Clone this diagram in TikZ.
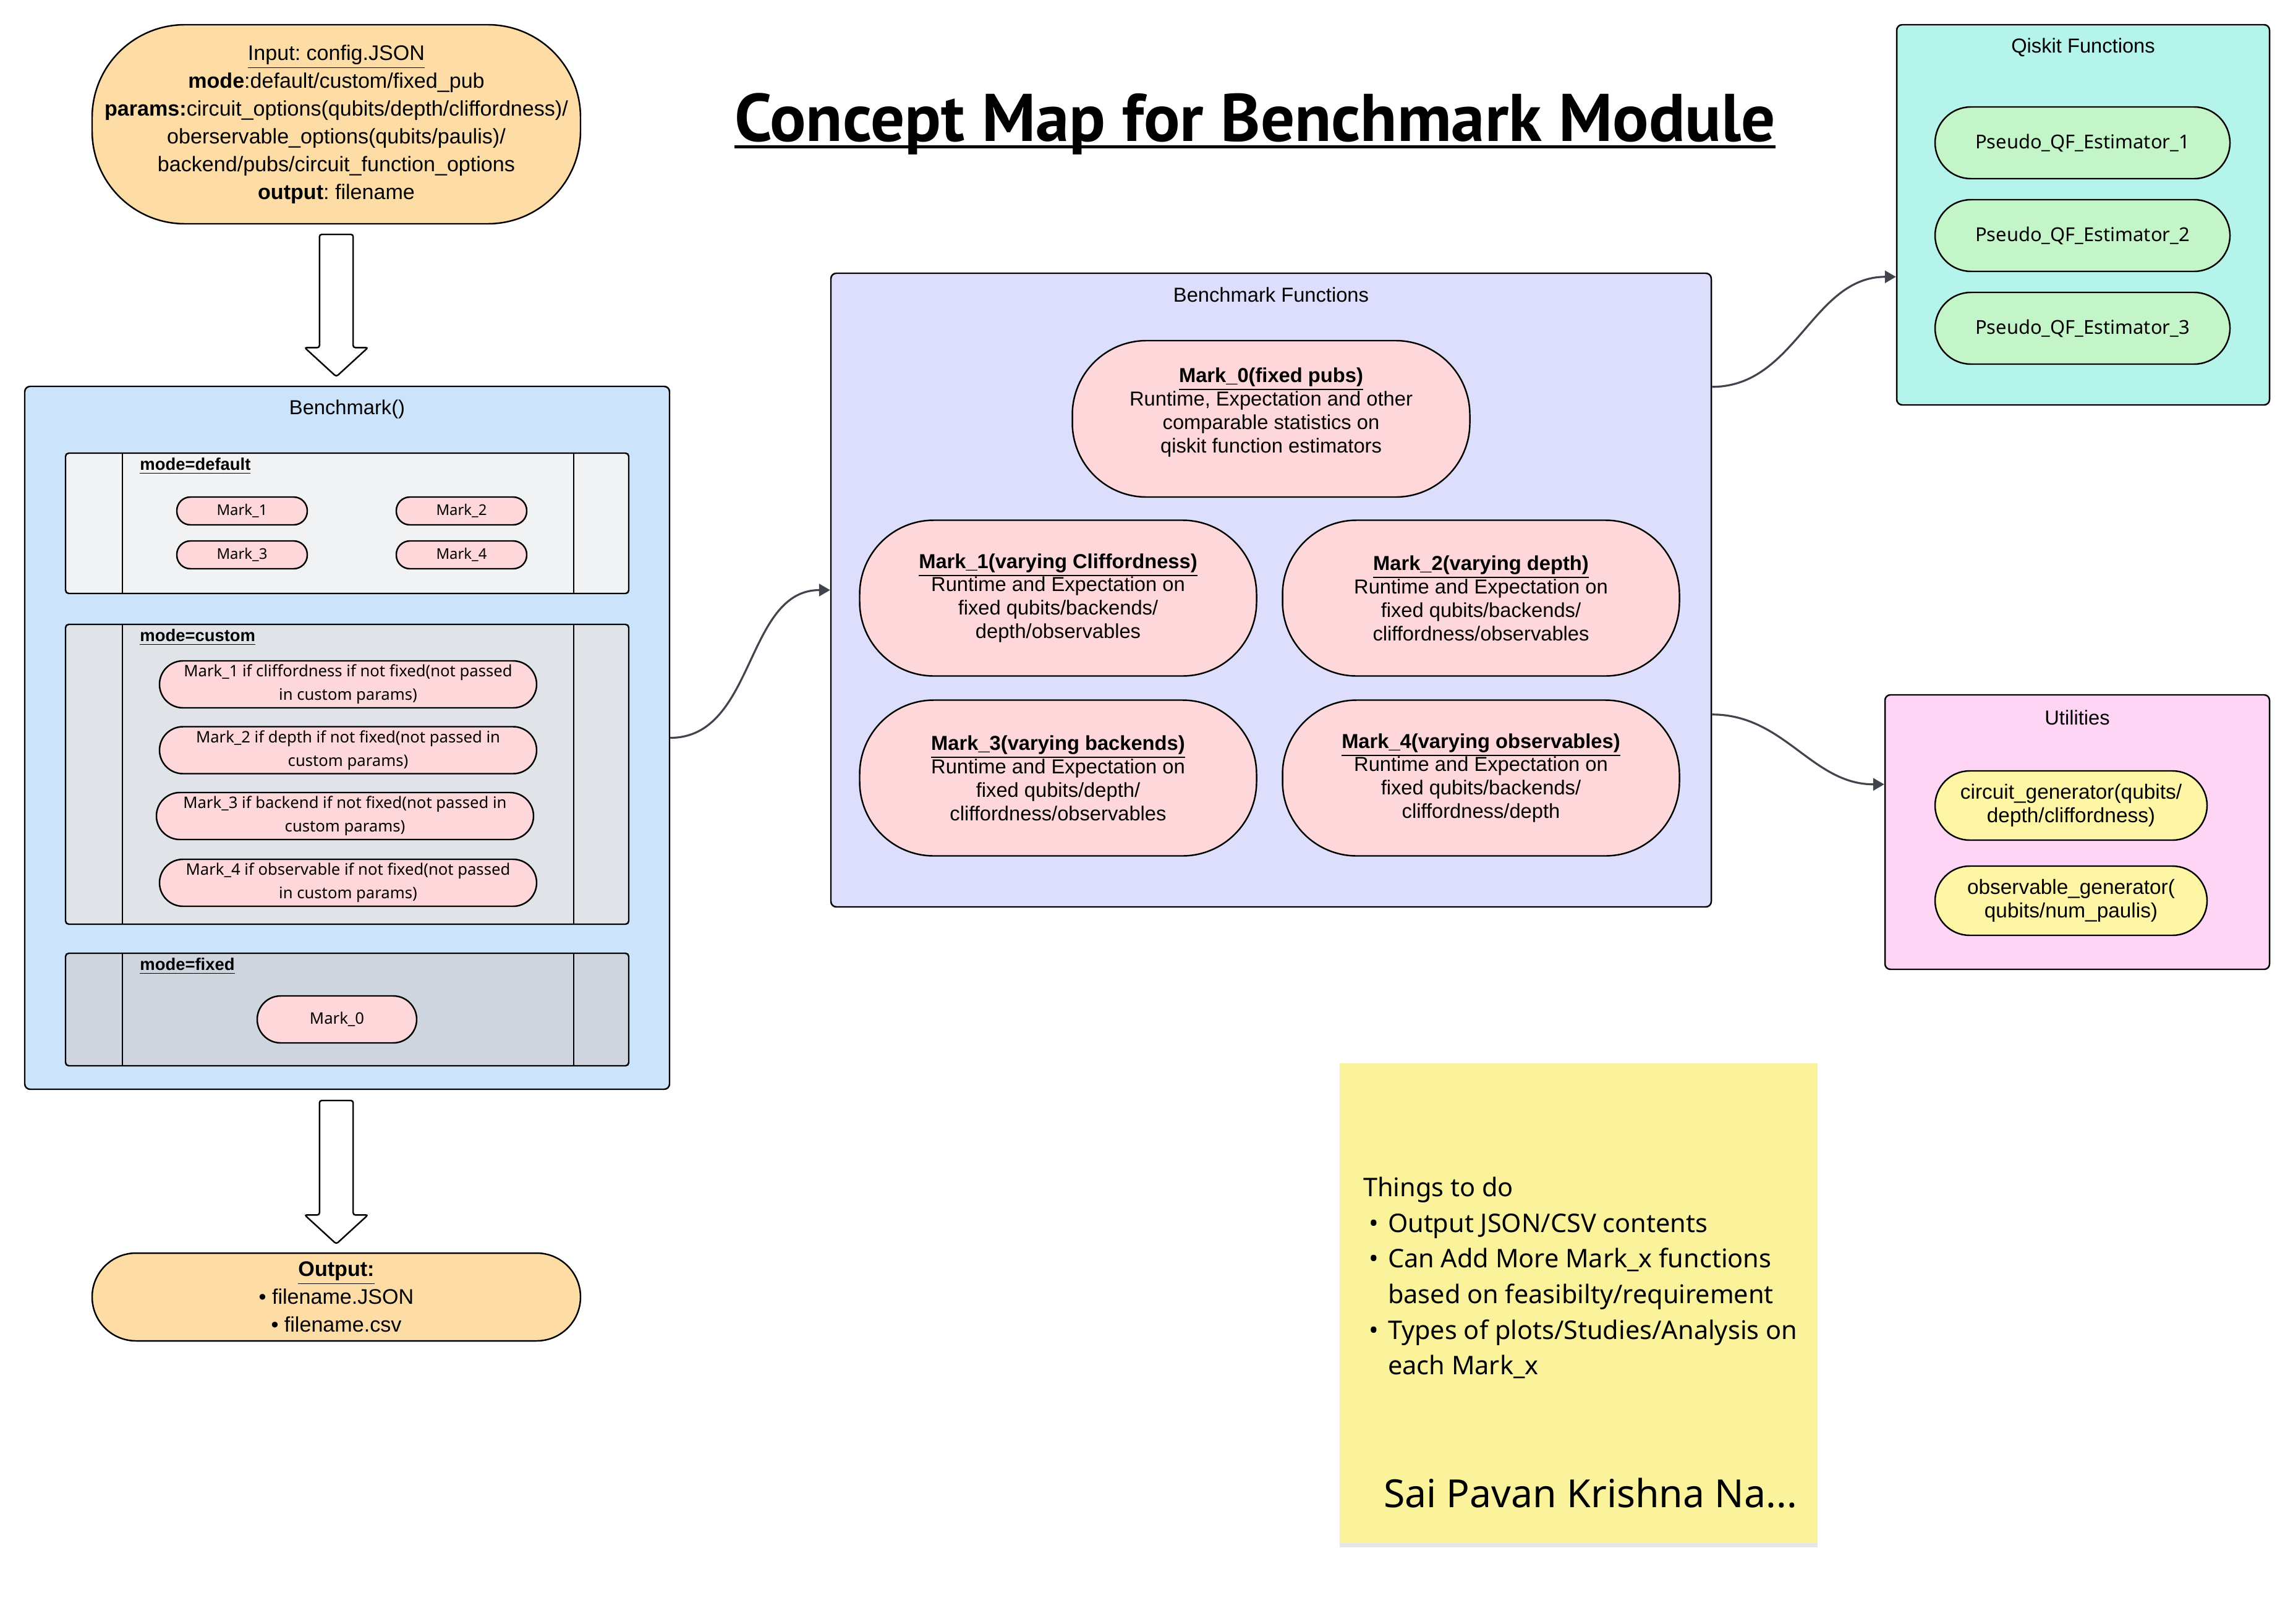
\documentclass[tikz,border=0pt]{standalone}
\usepackage{fontspec}
\setmainfont{Liberation Sans}
\newfontfamily\notefont{Noto Sans}
\newfontfamily\titlefont{PT Sans}
\usepackage{tikz}
\usetikzlibrary{arrows.meta,positioning,calc,shapes.arrows,shadows}
\definecolor{ioorange}{HTML}{FDDCA5}
\definecolor{benchblue}{HTML}{CCE3FC}
\definecolor{modelight}{HTML}{F1F2F4}
\definecolor{modemid}{HTML}{E0E3E8}
\definecolor{modedark}{HTML}{CED5DE}
\definecolor{markpink}{HTML}{FED7DA}
\definecolor{funlav}{HTML}{DCDEFC}
\definecolor{qkteal}{HTML}{B5F4EA}
\definecolor{qkgreen}{HTML}{C4F5C9}
\definecolor{utilpink}{HTML}{FFD5F6}
\definecolor{utilyellow}{HTML}{FFF6A5}
\definecolor{notey}{HTML}{FBF29C}
\definecolor{connector}{HTML}{40444C}
\frenchspacing
\newcommand{\fsz}[2]{\fontsize{#1}{#2}\selectfont}
\newsavebox{\ulbox}
\newcommand{\thickul}[1]{\sbox{\ulbox}{#1}\rlap{\rule[-.11em]{\wd\ulbox}{.05em}}\usebox{\ulbox}}
\newcommand{\todoline}[1]{\hspace*{.09cm}\makebox[.31cm][l]{\textbullet}#1}
\newcommand{\todocont}[1]{\hspace*{.40cm}#1}

\begin{document}
\begin{tikzpicture}[
  x=1cm,y=1cm,
  frame/.style={draw=black,line width=.7pt,rounded corners=2.5pt,inner sep=0pt},
  panel/.style={draw=black,line width=.7pt,rounded corners=1.5pt,inner sep=0pt,minimum width=9.11cm},
  pill/.style={draw=black,line width=.7pt,rounded corners=#1,inner sep=0pt,align=center},
  iobox/.style={pill=1.5cm,fill=ioorange,minimum width=7.9cm,font=\fsz{9.7}{12.8}},
  markbox/.style={pill=1.2cm,fill=markpink,minimum width=6.42cm,minimum height=2.52cm,font=\fsz{9.3}{10.8}},
  minimark/.style={pill=.22cm,fill=markpink,minimum width=2.11cm,minimum height=.45cm,font=\notefont\fsz{6.8}{8}},
  custmark/.style={pill=.38cm,fill=markpink,minimum width=6.1cm,minimum height=.76cm,font=\notefont\fsz{7.3}{10.8}},
  qfbox/.style={pill=.58cm,fill=qkgreen,minimum width=4.77cm,minimum height=1.16cm,font=\notefont\fsz{8.8}{10}},
  utilbox/.style={pill=.56cm,fill=utilyellow,minimum width=4.4cm,minimum height=1.12cm,font=\fsz{9.5}{10.8}},
  hdr/.style={font=\fsz{9.3}{11}},
  modelabel/.style={anchor=west,inner sep=0pt,font=\bfseries\fsz{7.8}{9}},
  bigarrow/.style={single arrow,draw=black,fill=white,line width=.7pt,shape border rotate=270,
    minimum width=1cm,single arrow head extend=.24cm,single arrow tip angle=95,
    minimum height=2.3cm,inner sep=.26cm,rounded corners=1pt,anchor=tail},
  sticky/.style={fill=notey,minimum width=7.73cm,minimum height=7.76cm,inner sep=0pt,
    drop shadow={shadow xshift=0pt,shadow yshift=-.07cm,opacity=.2}},
  conn/.style={-{Triangle[length=1.8mm,width=2mm]},line width=.9pt,draw=connector}
]
\path[use as bounding box,fill=white] (0,0) rectangle (37.09,-26.27);

% title
\node[font=\titlefont\bfseries\fsz{31}{36}] (title) at (20.30,-2.0)
  {\thickul{Concept Map for Benchmark Module}};

% input / output of the module
\node[iobox,minimum height=3.22cm] (input) at (5.44,-2.01) {\underline{Input: config.JSON}\\
  \textbf{mode}:default/custom/fixed\_pub\\
  \textbf{params:}circuit\_options(qubits/depth/cliffordness)/\\
  oberservable\_options(qubits/paulis)/\\
  backend/pubs/circuit\_function\_options\\
  \textbf{output}: filename};
\node[bigarrow] (toBench) at (5.44,-3.78) {};

\node[frame,fill=benchblue,minimum width=10.43cm,minimum height=11.37cm] (bench) at (5.615,-11.935) {};
\node[hdr] (benchT) at ([yshift=-.38cm]bench.north) {Benchmark()};
\node[panel,fill=modelight,minimum height=2.27cm] (pdef) at (5.615,-8.465) {};
\node[panel,fill=modemid,minimum height=4.85cm] (pcus) at (5.615,-12.525) {};
\node[panel,fill=modedark,minimum height=1.82cm] (pfix) at (5.615,-16.33) {};
\foreach \p in {pdef,pcus,pfix}{
  \draw[line width=.7pt] ([xshift=.93cm]\p.north west) -- ([xshift=.93cm]\p.south west);
  \draw[line width=.7pt] ([xshift=-.9cm]\p.north east) -- ([xshift=-.9cm]\p.south east);
}
\node[modelabel] (ldef) at ([xshift=1.21cm,yshift=-.22cm]pdef.north west) {\underline{mode=default}};
\node[modelabel] (lcus) at ([xshift=1.21cm,yshift=-.22cm]pcus.north west) {\underline{mode=custom}};
\node[modelabel] (lfix) at ([xshift=1.21cm,yshift=-.22cm]pfix.north west) {\underline{mode=fixed}};

\node[minimark] (d1) at (3.915,-8.265) {Mark\_1};
\node[minimark] (d2) at (7.465,-8.265) {Mark\_2};
\node[minimark] (d3) at (3.915,-8.975) {Mark\_3};
\node[minimark] (d4) at (7.465,-8.975) {Mark\_4};

\node[custmark] (c1) at (5.63,-11.07) {Mark\_1 if cliffordness if not fixed(not passed\\in custom params)};
\node[custmark] (c2) at (5.63,-12.135) {Mark\_2 if depth if not fixed(not passed in\\custom params)};
\node[custmark] (c3) at (5.58,-13.2) {Mark\_3 if backend if not fixed(not passed in\\custom params)};
\node[custmark] (c4) at (5.63,-14.28) {Mark\_4 if observable if not fixed(not passed\\in custom params)};

\node[custmark,minimum width=2.58cm] (f0) at (5.45,-16.49) {Mark\_0};

\node[bigarrow,minimum height=2.32cm] (toOut) at (5.44,-17.79) {};
\node[iobox,minimum height=1.42cm,pill=.71cm] (output) at (5.44,-20.98) {\textbf{\underline{Output:}}\\
  \textbullet\ filename.JSON\\
  \textbullet\ filename.csv};

% benchmark functions
\node[frame,fill=funlav,minimum width=14.24cm,minimum height=10.25cm] (bfun) at (20.56,-9.545) {};
\node[hdr] (bfunT) at ([yshift=-.36cm]bfun.north) {Benchmark Functions};
\node[markbox,minimum width=6.43cm,minimum height=2.53cm] (bm0) at (20.56,-6.775) {\textbf{\underline{Mark\_0(fixed pubs)}}\\
  Runtime, Expectation and other\\comparable statistics on\\qiskit function estimators\\[-2.8pt]\mbox{}};
\node[markbox] (bm1) at (17.115,-9.675) {\textbf{\underline{Mark\_1(varying Cliffordness)}}\\
  Runtime and Expectation on\\fixed qubits/backends/\\depth/observables};
\node[markbox] (bm2) at (23.955,-9.675) {\textbf{\underline{Mark\_2(varying depth)}}\\
  Runtime and Expectation on\\fixed qubits/backends/\\cliffordness/observables};
\node[markbox] (bm3) at (17.115,-12.585) {\textbf{\underline{Mark\_3(varying backends)}}\\
  Runtime and Expectation on\\fixed qubits/depth/\\cliffordness/observables};
\node[markbox] (bm4) at (23.955,-12.585) {\textbf{\underline{Mark\_4(varying observables)}}\\
  Runtime and Expectation on\\fixed qubits/backends/\\cliffordness/depth};

% qiskit functions
\node[frame,fill=qkteal,minimum width=6.03cm,minimum height=6.15cm] (qfun) at (33.695,-3.475) {};
\node[hdr] (qfunT) at ([yshift=-.38cm]qfun.north) {Qiskit Functions};
\node[qfbox] (q1) at (33.685,-2.31) {Pseudo\_QF\_Estimator\_1};
\node[qfbox] (q2) at (33.685,-3.81) {Pseudo\_QF\_Estimator\_2};
\node[qfbox] (q3) at (33.685,-5.31) {Pseudo\_QF\_Estimator\_3};

% utilities
\node[frame,fill=utilpink,minimum width=6.22cm,minimum height=4.44cm] (util) at (33.60,-13.46) {};
\node[hdr] (utilT) at ([yshift=-.38cm]util.north) {Utilities};
\node[utilbox] (u1) at (33.50,-13.03) {circuit\_generator(qubits/\\depth/cliffordness)};
\node[utilbox] (u2) at (33.50,-14.57) {observable\_generator(\\qubits/num\_paulis)};

% connectors
\draw[conn] (bench.east) to[out=0,in=180] (bfun.west);
\draw[conn] ([yshift=-1.85cm]bfun.north east) to[out=0,in=180] ([yshift=-4.09cm]qfun.north west);
\draw[conn] ([yshift=-7.15cm]bfun.north east) to[out=0,in=180] ([yshift=-1.46cm]util.north west);

% sticky note
\node[sticky] (note) at (25.535,-21.08) {};
\node[anchor=north west,align=left,inner sep=0pt,font=\notefont\fsz{11.8}{16.4}] (todo)
  at ([xshift=.38cm,yshift=-1.84cm]note.north west) {Things to do\\
  \todoline{Output JSON/CSV contents}\\
  \todoline{Can Add More Mark\_x functions}\\
  \todocont{based on feasibilty/requirement}\\
  \todoline{Types of plots/Studies/Analysis on}\\
  \todocont{each Mark\_x}};
\node[anchor=base west,inner sep=0pt,font=\notefont\fsz{17.8}{20}] (sign)
  at ([xshift=.71cm,yshift=-7.19cm]note.north west) {Sai Pavan Krishna Na...};
\end{tikzpicture}
\end{document}
